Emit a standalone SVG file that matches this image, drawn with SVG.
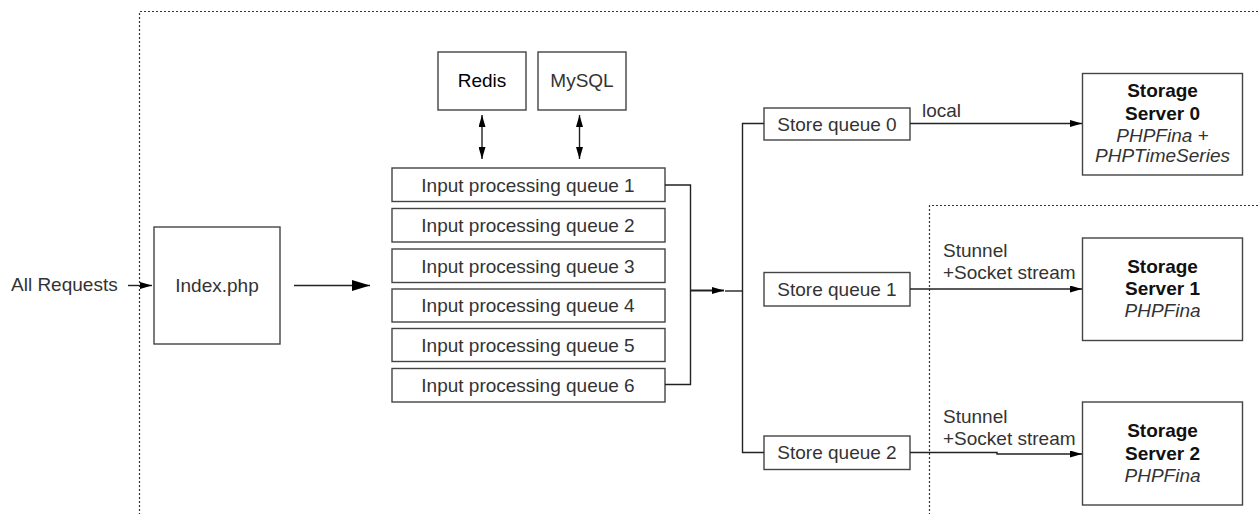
<svg xmlns="http://www.w3.org/2000/svg" width="1258" height="514" viewBox="0 0 1258 514">
<style>
.box{fill:#fff;stroke:#444;stroke-width:1.4}
.t{font-family:"Liberation Sans",Arial,sans-serif;font-size:19px;fill:#333;text-anchor:middle}
.l{font-family:"Liberation Sans",Arial,sans-serif;font-size:19px;fill:#333}
.b{font-weight:bold;fill:#111}
.i{font-style:italic}
.dot{fill:none;stroke:#333;stroke-width:1.2;stroke-dasharray:2 2}
.c{fill:none;stroke:#222;stroke-width:1.4}
</style>
<defs>
<marker id="a" viewBox="0 0 12 7" refX="12" refY="3.5" markerWidth="12" markerHeight="7" markerUnits="userSpaceOnUse" orient="auto-start-reverse"><path d="M0,0 L12,3.5 L0,7 z" fill="#000"/></marker>
<marker id="big" viewBox="0 0 18 11" refX="18" refY="5.5" markerWidth="18" markerHeight="11" markerUnits="userSpaceOnUse" orient="auto"><path d="M0,0 L18,5.5 L0,11 z" fill="#000"/></marker>
</defs>
<g id="boundaries">
<path class="dot" d="M1258,11.5 H139.5 V514"/>
<path class="dot" d="M1258,205.5 H929.5 V514"/>
</g>
<g id="all-requests"><text class="l" x="11" y="291">All Requests</text></g>
<g id="index"><rect class="box" x="154" y="227" width="126" height="117"/><text class="t" x="217" y="292">Index.php</text></g>
<g id="redis"><rect class="box" x="438" y="52" width="88" height="58"/><text class="t" x="482" y="87" style="fill:#000">Redis</text></g>
<g id="mysql"><rect class="box" x="538" y="52" width="88" height="58"/><text class="t" x="582" y="87">MySQL</text></g>
<g id="ipq1"><rect class="box" x="392" y="168" width="273" height="33.5"/><text class="t" x="528" y="191.5">Input processing queue 1</text></g>
<g id="ipq2"><rect class="box" x="392" y="208.5" width="273" height="33.5"/><text class="t" x="528" y="232">Input processing queue 2</text></g>
<g id="ipq3"><rect class="box" x="392" y="249" width="273" height="33.5"/><text class="t" x="528" y="272.5">Input processing queue 3</text></g>
<g id="ipq4"><rect class="box" x="392" y="289" width="273" height="33"/><text class="t" x="528" y="312">Input processing queue 4</text></g>
<g id="ipq5"><rect class="box" x="392" y="328.5" width="273" height="33"/><text class="t" x="528" y="351.5">Input processing queue 5</text></g>
<g id="ipq6"><rect class="box" x="392" y="368.5" width="273" height="33.5"/><text class="t" x="528" y="391.5">Input processing queue 6</text></g>
<g id="sq0"><rect class="box" x="764" y="108" width="146" height="32"/><text class="t" x="837" y="130.5">Store queue 0</text></g>
<g id="sq1"><rect class="box" x="764" y="272.5" width="146" height="33.5"/><text class="t" x="837" y="295.5">Store queue 1</text></g>
<g id="sq2"><rect class="box" x="764" y="436" width="146" height="33.5"/><text class="t" x="837" y="459">Store queue 2</text></g>
<g id="ss0"><rect class="box" x="1082.5" y="73.5" width="160" height="101.5"/>
<text class="t b" x="1162.5" y="97">Storage</text><text class="t b" x="1162.5" y="119.5">Server 0</text>
<text class="t i" x="1162.5" y="141.5">PHPFina +</text><text class="t i" x="1162.5" y="162">PHPTimeSeries</text></g>
<g id="ss1"><rect class="box" x="1082.5" y="238" width="160" height="102.5"/>
<text class="t b" x="1162.5" y="272.5">Storage</text><text class="t b" x="1162.5" y="294.5">Server 1</text>
<text class="t i" x="1162.5" y="317">PHPFina</text></g>
<g id="ss2"><rect class="box" x="1082.5" y="402" width="160" height="103"/>
<text class="t b" x="1162.5" y="437">Storage</text><text class="t b" x="1162.5" y="460">Server 2</text>
<text class="t i" x="1162.5" y="482">PHPFina</text></g>
<g id="labels">
<text class="l" x="922" y="117">local</text>
<text class="l" x="943" y="257">Stunnel</text><text class="l" x="943" y="278.5">+Socket stream</text>
<text class="l" x="943" y="423">Stunnel</text><text class="l" x="943" y="444.5">+Socket stream</text>
</g>
<g id="connectors">
<path class="c" d="M128,285.5 H152" marker-end="url(#a)"/>
<path class="c" d="M294,285.5 H370" marker-end="url(#big)"/>
<path class="c" d="M482,115 V159" marker-start="url(#a)" marker-end="url(#a)"/>
<path class="c" d="M579.5,115 V159" marker-start="url(#a)" marker-end="url(#a)"/>
<path class="c" d="M665,185 H690.5 V384.5 H665"/>
<path class="c" d="M690.5,290.5 H724" style="stroke-width:2.2" marker-end="url(#a)"/>
<path class="c" d="M725,291 H742.5"/>
<path class="c" d="M764,123.5 H742.5 V452.5 H764"/>
<path class="c" d="M910,123.5 H1082" marker-end="url(#a)"/>
<path class="c" d="M910,289 H1082" marker-end="url(#a)"/>
<path class="c" d="M910,452.5 H997 V454 H1082" marker-end="url(#a)"/>
</g>
</svg>
